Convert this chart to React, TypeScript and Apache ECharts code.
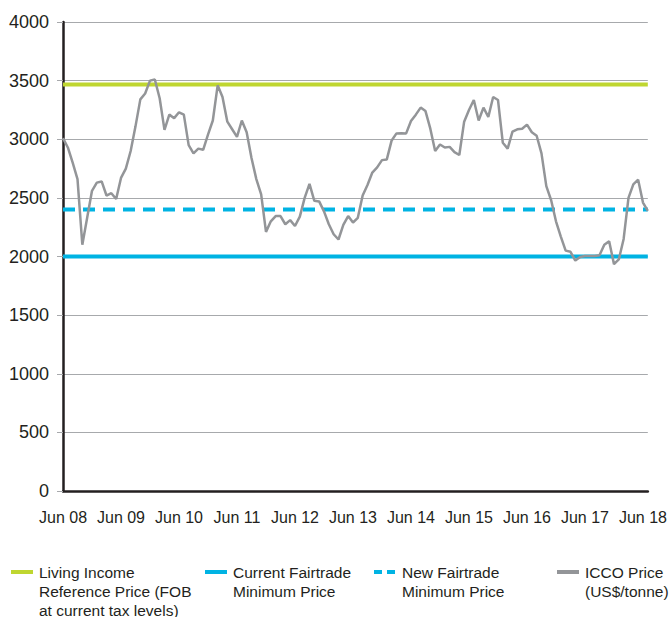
import React, { useEffect, useRef } from "react";
import * as echarts from "echarts";

// Year tick labels (one every 12 months, starting Jun 2008)
const yearLabels = ["Jun 08", "Jun 09", "Jun 10", "Jun 11", "Jun 12", "Jun 13", "Jun 14", "Jun 15", "Jun 16", "Jun 17", "Jun 18"];

// Monthly ICCO price (US$/tonne), from Jun 2008
const iccoPrice = [
  3010, 2930, 2800, 2660, 2100, 2330, 2560, 2630, 2640, 2520, 2540, 2490,
  2670, 2750, 2900, 3110, 3340, 3390, 3500, 3510, 3350, 3080, 3210, 3180,
  3230, 3210, 2950, 2880, 2920, 2910, 3040, 3160, 3460, 3360, 3150, 3085,
  3020, 3160, 3060, 2840, 2660, 2530, 2210, 2300, 2345, 2345, 2275, 2310,
  2260, 2340, 2500, 2620, 2475, 2470, 2385, 2275, 2190, 2145, 2270, 2345,
  2290, 2330, 2520, 2610, 2716, 2760, 2822, 2828, 2990, 3050, 3052, 3050,
  3155, 3210, 3270, 3240, 3090, 2900, 2955, 2930, 2935, 2890, 2866, 3150,
  3250, 3335, 3160, 3270, 3190, 3360, 3335, 2970, 2920, 3065, 3085, 3090,
  3125, 3060, 3030, 2880, 2600, 2480, 2300, 2170, 2050, 2040, 1965, 1995,
  2005, 2005, 2005, 2010, 2100, 2130, 1935, 1975, 2150, 2500, 2615, 2655,
  2460, 2390,
];

const livingIncomePrice = 3466;
const currentFairtradeMin = 2000;
const newFairtradeMin = 2400;

const legendNames = [
  "Living Income\nReference Price (FOB\nat current tax levels)",
  "Current Fairtrade\nMinimum Price",
  "New Fairtrade\nMinimum Price",
  "ICCO Price\n(US$/tonne)",
];

const GREEN = "#bfd630";
const CYAN = "#00b3e3";
const GREY = "#939598";
const TEXT = "#231f20";
const FONT = "'Liberation Sans', Arial, Helvetica, sans-serif";

export default function App() {
  const ref = useRef<HTMLDivElement>(null);

  useEffect(() => {
    if (!ref.current) return;
    const chart = echarts.init(ref.current, undefined, { renderer: "svg" });
    const lastX = iccoPrice.length - 1;
    const hLine = (v: number) => [[0, v], [lastX, v]];

    const legendX = [11, 205, 374, 557];
    const legendStyles = [
      { stroke: GREEN, lineDash: undefined as any },
      { stroke: CYAN, lineDash: undefined as any },
      { stroke: CYAN, lineDash: [8, 5] },
      { stroke: GREY, lineDash: undefined as any },
    ];
    const graphics: any[] = [];
    legendNames.forEach((name, i) => {
      graphics.push({
        type: "line",
        shape: { x1: legendX[i], y1: 572, x2: legendX[i] + 22, y2: 572 },
        style: { stroke: legendStyles[i].stroke, lineWidth: 4, lineDash: legendStyles[i].lineDash },
      });
      graphics.push({
        type: "text",
        x: legendX[i] + 28,
        y: 562.5,
        style: {
          text: name,
          fill: TEXT,
          font: `15.5px ${FONT}`,
          lineHeight: 19,
          verticalAlign: "top",
          align: "left",
        },
      });
    });

    chart.setOption({
      animation: false,
      backgroundColor: "#ffffff",
      textStyle: { fontFamily: FONT },
      grid: { left: 63, right: 20, top: 22, bottom: 126, containLabel: false },
      xAxis: {
        type: "value",
        min: 0,
        max: lastX,
        interval: 12,
        axisLine: { show: true, lineStyle: { color: TEXT, width: 2.5 } },
        axisTick: { show: false },
        splitLine: { show: false },
        axisLabel: {
          color: TEXT,
          fontSize: 16,
          margin: 18,
          showMaxLabel: false,
          formatter: (v: number) => (v % 12 === 0 ? yearLabels[v / 12] ?? "" : ""),
        },
      },
      yAxis: {
        type: "value",
        min: 0,
        max: 4000,
        interval: 500,
        axisLine: { show: true, lineStyle: { color: TEXT, width: 2.5 } },
        axisTick: { show: true, length: 6, lineStyle: { color: "#a7a9ac", width: 1 } },
        splitLine: { show: true, lineStyle: { color: "#a7a9ac", width: 1 } },
        axisLabel: { color: TEXT, fontSize: 18, margin: 14, formatter: (v: number) => String(v) },
      },
      graphic: graphics,
      series: [
        {
          type: "line",
          data: hLine(livingIncomePrice),
          symbol: "none",
          lineStyle: { color: GREEN, width: 4 },
          z: 2,
        },
        {
          type: "line",
          data: hLine(currentFairtradeMin),
          symbol: "none",
          lineStyle: { color: CYAN, width: 4 },
          z: 2,
        },
        {
          type: "line",
          data: hLine(newFairtradeMin),
          symbol: "none",
          lineStyle: { color: CYAN, width: 4, type: [12, 8] },
          z: 2,
        },
        {
          type: "line",
          data: iccoPrice.map((v, i) => [i, v]),
          symbol: "none",
          lineStyle: { color: GREY, width: 2.5 },
          z: 3,
        },
      ],
    });
    return () => chart.dispose();
  }, []);

  return (
    <div
      ref={ref}
      style={{ position: "fixed", left: 0, top: 0, width: 670, height: 617, background: "#fff" }}
    />
  );
}
